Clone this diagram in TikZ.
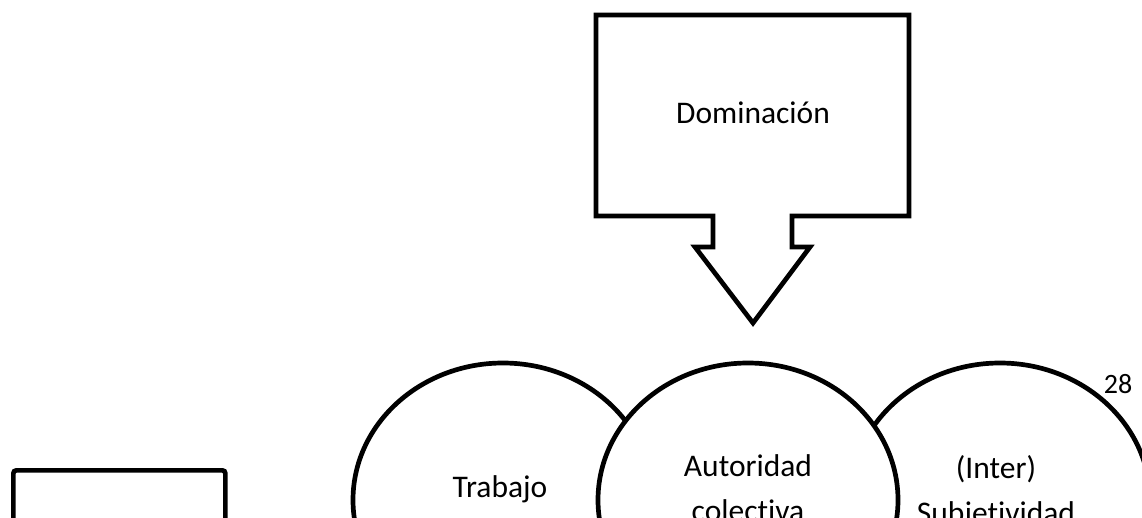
\documentclass[tikz,border=0pt]{standalone}
\usepackage{fontspec}
\setmainfont{Carlito}[Ligatures=NoCommon]
\usetikzlibrary{shapes.geometric}
\begin{document}
\begin{tikzpicture}[x=1pt,y=-1pt,
  outline/.style={draw=black,line width=4.7pt,line join=miter},
  oval/.style={ellipse,outline,fill=white,minimum width=300pt,minimum height=274pt,inner sep=0pt},
  lbl/.style={font=\fontsize{31.5}{45}\selectfont,align=center,inner sep=0pt}]
\clip (0,0) rectangle (1142,518);
\fill[white] (0,0) rectangle (1142,518);
% callout
\draw[outline] (596,15) -- (909,15) -- (909,216) -- (792,216) -- (792,247) -- (810,247)
  -- (753,323) -- (695,247) -- (713,247) -- (713,216) -- (596,216) -- cycle;
\node[lbl,anchor=base] (dom) at (753,124) {Dominación};
% ellipses
\node[oval] (trabajo) at (503,500) {};
\node[oval] (inter) at (1000,500) {};
\node[oval] (autoridad) at (748,500) {};
\node[lbl,anchor=base] (ttrab) at (500,497) {Trabajo};
\node[lbl,anchor=base] (taut) at (748,521) {Autoridad\\colectiva};
\node[lbl,anchor=base] (tint) at (996,523) {(Inter)\\Subjetividad};
\node[font=\fontsize{28}{33}\selectfont,inner sep=0pt] (pg) at (1118,384) {28};
% bottom-left box
\node[outline,rounded corners=3pt,minimum width=212pt,minimum height=200pt,anchor=north west,inner sep=0pt] (box) at (11,468) {};
\end{tikzpicture}
\end{document}
